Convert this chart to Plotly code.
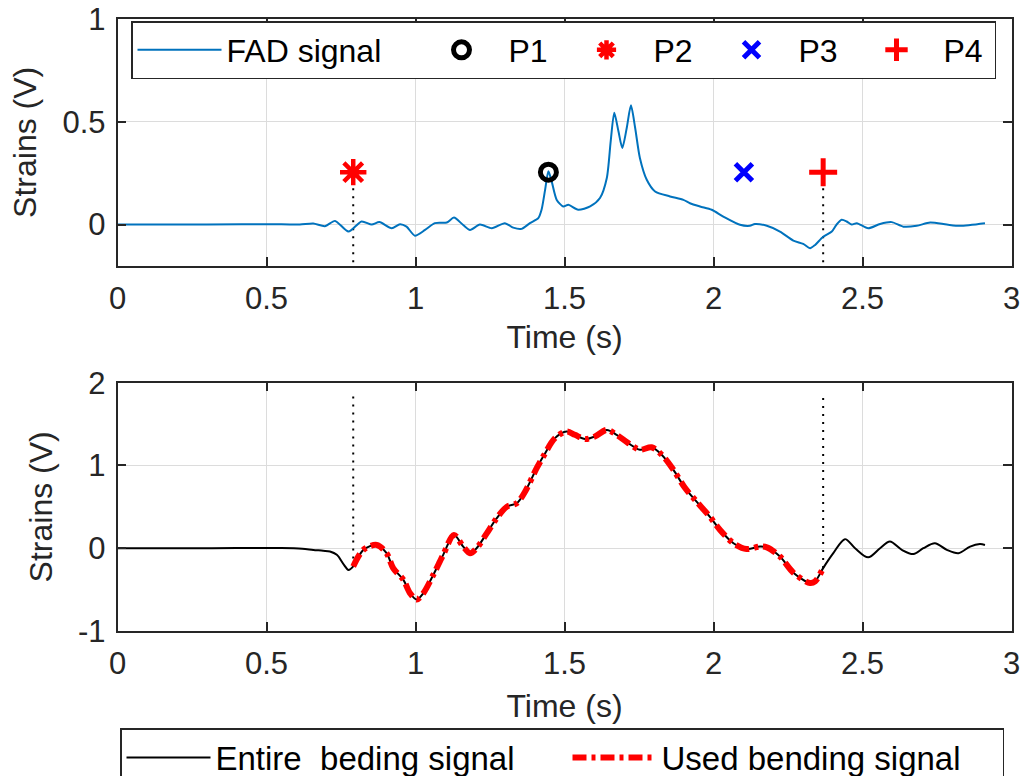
import numpy as np
import plotly.graph_objects as go

# FAD strain signal (top panel)
fad_t = [0.00, 0.30, 0.55, 0.612, 0.657, 0.696, 0.730, 0.775, 0.819, 0.853, 0.879,
         0.920, 0.948, 0.970, 0.998, 1.032, 1.065, 1.105, 1.129, 1.160, 1.183, 1.216,
         1.256, 1.300, 1.328, 1.356, 1.384, 1.412, 1.423, 1.435, 1.446, 1.457, 1.474,
         1.496, 1.513, 1.546, 1.586, 1.619, 1.642, 1.655, 1.667, 1.681, 1.694, 1.709,
         1.723, 1.737, 1.753, 1.776, 1.804, 1.854, 1.899, 1.921, 1.955, 1.994, 2.033,
         2.089, 2.122, 2.139, 2.179, 2.223, 2.268, 2.301, 2.324, 2.341, 2.368, 2.397,
         2.413, 2.430, 2.447, 2.464, 2.481, 2.519, 2.559, 2.598, 2.637, 2.682, 2.727,
         2.783, 2.827, 2.911]
fad_v = [0.000, 0.000, 0.002, 0.000, 0.005, -0.008, 0.018, -0.034, 0.015, 0.000, 0.012,
         -0.018, 0.002, -0.010, -0.054, -0.026, 0.007, 0.010, 0.034, -0.002, -0.026, 0.000,
         -0.018, 0.007, -0.015, -0.021, 0.007, 0.031, 0.072, 0.170, 0.259, 0.210, 0.120,
         0.088, 0.096, 0.072, 0.088, 0.129, 0.227, 0.405, 0.544, 0.454, 0.373, 0.471,
         0.580, 0.471, 0.324, 0.218, 0.161, 0.137, 0.120, 0.104, 0.088, 0.072, 0.039,
         -0.001, -0.006, 0.003, -0.006, -0.034, -0.078, -0.094, -0.115, -0.099, -0.059, -0.034,
         0.000, 0.023, 0.015, 0.000, 0.007, -0.018, 0.003, 0.012, -0.010, -0.006, 0.010,
         0.000, -0.006, 0.007]

# Bending strain signal (bottom panel)
bend_t = [0.00, 0.30, 0.55, 0.62, 0.657, 0.690, 0.713, 0.736, 0.760, 0.775, 0.791,
          0.825, 0.870, 0.903, 0.925, 0.959, 0.982, 1.004, 1.026, 1.060, 1.093, 1.129,
          1.160, 1.183, 1.205, 1.239, 1.272, 1.306, 1.340, 1.367, 1.407, 1.429, 1.468,
          1.507, 1.535, 1.569, 1.602, 1.642, 1.675, 1.714, 1.753, 1.792, 1.826, 1.865,
          1.904, 1.944, 1.988, 2.022, 2.067, 2.111, 2.156, 2.179, 2.223, 2.268, 2.324,
          2.341, 2.368, 2.402, 2.441, 2.475, 2.519, 2.559, 2.592, 2.632, 2.671, 2.704,
          2.743, 2.783, 2.822, 2.861, 2.894, 2.911]
bend_v = [0.000, 0.000, 0.003, -0.005, -0.020, -0.030, -0.040, -0.080, -0.200, -0.263, -0.220,
          -0.020, 0.040, -0.060, -0.240, -0.380, -0.545, -0.620, -0.545, -0.320, -0.080, 0.160,
          0.020, -0.060, 0.000, 0.180, 0.360, 0.500, 0.545, 0.680, 0.970, 1.110, 1.330,
          1.410, 1.370, 1.320, 1.350, 1.430, 1.370, 1.270, 1.190, 1.220, 1.130, 0.950,
          0.730, 0.560, 0.380, 0.220, 0.060, -0.010, 0.020, 0.010, -0.100, -0.295, -0.420,
          -0.400, -0.240, -0.060, 0.110, 0.000, -0.110, 0.000, 0.080, -0.020, -0.070, 0.000,
          0.060, -0.020, -0.060, 0.020, 0.050, 0.040]

# Characteristic points
point_names = ["P1", "P2", "P3", "P4"]
point_t = [1.446, 0.791, 2.102, 2.368]
point_v = [0.255, 0.255, 0.255, 0.255]

# Extent of the vertical guide lines
guide_top_low = -0.2
guide_bottom_high = 1.87

W, H = 1022, 776
FONT = "Liberation Sans, Arial, Helvetica, sans-serif"
AX = "#262626"
GRID = "#dcdcdc"

bend_t_arr = np.array(bend_t)
bend_v_arr = np.array(bend_v)
t_start, t_end = point_t[1], point_t[3]
used = (bend_t_arr >= t_start - 1e-9) & (bend_t_arr <= t_end + 1e-9)

fig = go.Figure()

# vertical guides in the top panel (P2 and P4)
for tp, vp in [(point_t[1], point_v[1]), (point_t[3], point_v[3])]:
    fig.add_trace(go.Scatter(x=[tp, tp], y=[vp, guide_top_low], mode="lines",
                             line=dict(color="black", width=2, dash="2px,6px"),
                             showlegend=False, hoverinfo="skip", xaxis="x", yaxis="y"))

fig.add_trace(go.Scatter(x=fad_t, y=fad_v, mode="lines", name="FAD signal",
                         line=dict(color="#0072BD", width=2, shape="spline", smoothing=0.7),
                         legend="legend", legendwidth=183, xaxis="x", yaxis="y"))

marker_styles = [
    dict(symbol="circle-open", size=16, color="black", line=dict(width=5, color="black")),
    dict(symbol="asterisk-open", size=22, color="red", line=dict(width=4.5, color="red")),
    dict(symbol="x-thin-open", size=17, color="blue", line=dict(width=5, color="blue")),
    dict(symbol="cross-thin-open", size=20, color="red", line=dict(width=5, color="red")),
]
for name, tp, vp, ms in zip(point_names, point_t, point_v, marker_styles):
    fig.add_trace(go.Scatter(x=[tp], y=[vp], mode="markers", name=name, marker=ms,
                             legend="legend", legendwidth=46, xaxis="x", yaxis="y"))

# vertical guides in the bottom panel
for tp in [t_start, t_end]:
    v_at = float(np.interp(tp, bend_t_arr, bend_v_arr))
    fig.add_trace(go.Scatter(x=[tp, tp], y=[v_at, guide_bottom_high], mode="lines",
                             line=dict(color="black", width=2, dash="2px,6px"),
                             showlegend=False, hoverinfo="skip", xaxis="x2", yaxis="y2"))

fig.add_trace(go.Scatter(x=bend_t, y=bend_v, mode="lines", name="Entire\u00a0 beding signal",
                         line=dict(color="black", width=2, shape="spline", smoothing=0.9),
                         legend="legend2", legendwidth=347, xaxis="x2", yaxis="y2"))
fig.add_trace(go.Scatter(x=bend_t_arr[used], y=bend_v_arr[used], mode="lines",
                         name="Used bending signal",
                         line=dict(color="red", width=6, dash="14px,5px,4px,5px",
                                   shape="spline", smoothing=0.9),
                         legend="legend2", legendwidth=336, xaxis="x2", yaxis="y2"))

xdom = [117.5 / W, 1011.5 / W]
axis_common = dict(showline=True, linecolor=AX, linewidth=1.5, mirror="ticks",
                   ticks="inside", ticklen=9, tickwidth=1.5, tickcolor=AX,
                   showgrid=True, gridcolor=GRID, gridwidth=1, zeroline=False,
                   automargin=False,
                   tickfont=dict(size=31, color=AX, family=FONT))
ytitle = dict(text="Strains (V)", font=dict(size=32, color=AX), standoff=16)

fig.update_layout(
    width=W, height=H, margin=dict(l=0, r=0, t=0, b=0, autoexpand=False),
    paper_bgcolor="white", plot_bgcolor="white",
    font=dict(family=FONT, color=AX),
    xaxis=dict(domain=xdom, range=[0, 3], dtick=0.5, tick0=0, anchor="y",
               ticklabelstandoff=4,
               title=dict(text="Time (s)", font=dict(size=32, color=AX), standoff=11),
               **axis_common),
    yaxis=dict(domain=[1 - 265.7 / H, 1 - 19 / H], range=[-0.2, 1], dtick=0.5, tick0=0,
               anchor="x", ticklabelstandoff=4, title=ytitle, **axis_common),
    xaxis2=dict(domain=xdom, range=[0, 3], dtick=0.5, tick0=0, anchor="y2",
                ticklabelstandoff=4,
                title=dict(text="Time (s)", font=dict(size=32, color=AX), standoff=15),
                **axis_common),
    yaxis2=dict(domain=[1 - 631 / H, 1 - 382.7 / H], range=[-1, 2],
                tickvals=[-1, 0, 1, 2], ticktext=["-1", "0", "1", "2"],
                anchor="x2", ticklabelstandoff=4, title=ytitle, **axis_common),
    legend=dict(x=131 / W, y=1 - 21 / H, xanchor="left", yanchor="top",
                orientation="h", bgcolor="white", bordercolor=AX, borderwidth=1.5,
                font=dict(size=32, color="black", family=FONT), itemwidth=84,
                tracegroupgap=0),
    legend2=dict(x=120 / W, y=1 - 728 / H, xanchor="left", yanchor="top",
                 orientation="h", bgcolor="white", bordercolor=AX, borderwidth=1.5,
                 font=dict(size=33, color="black", family=FONT), itemwidth=84,
                 tracegroupgap=0),
    showlegend=True,
)

fig.write_html("out.html")
